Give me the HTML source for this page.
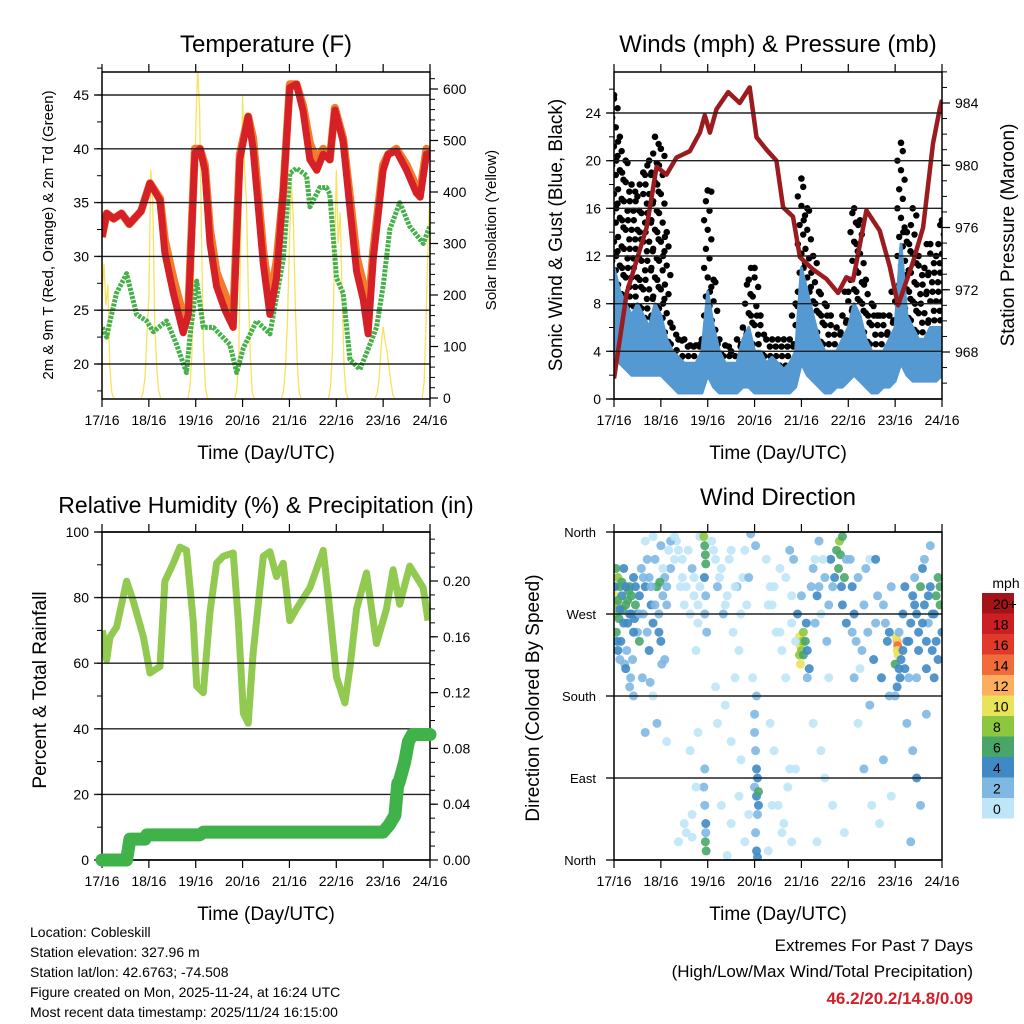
<!DOCTYPE html>
<html><head><meta charset="utf-8"><style>
body{margin:0;background:#fff}
svg{display:block;font-family:"Liberation Sans",Arial,sans-serif}
</style></head><body>
<svg id="c" width="1024" height="1024" viewBox="0 0 1024 1024" xmlns="http://www.w3.org/2000/svg">
<defs>
<clipPath id="cp1"><rect x="102" y="72" width="328" height="327"/></clipPath>
<clipPath id="cp2"><rect x="614" y="72" width="328" height="327"/></clipPath>
<clipPath id="cp3"><rect x="102" y="532" width="328" height="328"/></clipPath>
<clipPath id="cp4"><rect x="614" y="532" width="328" height="328"/></clipPath>
</defs>
</svg>
<script>
// ---------- DATA ----------
const dayLabels=["17/16","18/16","19/16","20/16","21/16","22/16","23/16","24/16"];
const tempTicks=[20,25,30,35,40,45];
const solarTicks=[0,100,200,300,400,500,600];
const windTicks=[0,4,8,12,16,20,24];
const presTicks=[968,972,976,980,984];
const rhTicks=[0,20,40,60,80,100];
const rainTicks=[0,0.04,0.08,0.12,0.16,0.20];
const dirTicks=[0,90,180,270,360];
const dirTickLabels=["North","East","South","West","North"];
const cbLabels=["20+","18","16","14","12","10","8","6","4","2","0"];
const cbColors=["#a31419","#cc1f24","#e03a2a","#f26b3a","#fbae5e","#e9e35a","#8dc63f","#4aa668","#3f8ac5","#7fb8e3","#bfe6f8"];

const tempH=[0,2.4,6,10,14,20,24.6,29.7,32.2,36.5,41.6,44.2,47.6,50.2,52.7,55.3,58.7,63,67.2,70.6,74.9,77.4,82.6,86,89.4,92.8,96.2,99.6,103,106.5,110,113.3,116.7,119.3,123.5,127,130.4,133.8,136.3,138.9,144,146.6,150.8,156,161,163,166.2,168];
const tempRed=[31.8,34,33.5,34,33,34.2,36.8,35.2,30.3,26.6,22.9,24.6,39.6,40,38,31.2,27.2,25,23.4,39,43,40,29.3,24.6,28,35.9,45.7,46,43.5,39,38,39.5,39,43.6,40.7,34.4,28.6,26,22.8,29.7,38,39.5,39.8,38,35.9,35.5,39.5,39.6];
const tempOrange=[31.8,34,33.5,34,33,34.2,36.8,35.4,31.5,28,24.5,25,40,40,38.5,32.5,28.5,26.5,24.5,39.5,43,41,30.5,26,29.5,36,46,46,44,40.5,39,40,39,43.8,41,35.5,30,27.5,24.5,30.5,38.5,39.5,40,38.5,36.5,36,40,39.8];
const dewH=[0.2,2.4,4.1,7.5,12.6,17.7,22.9,26.3,33.1,38.2,43.3,45,48.5,51.9,57,65.5,69,72.4,79.2,86,92.8,96.2,99.6,104.8,106.5,111.6,115,116.7,120.1,123.5,127,132.1,135.5,140.6,144,147.4,152.5,157.6,164.5,167.9];
const dewT=[23.4,22.5,24,26.6,28.4,24.6,24,23,24,21.8,19.2,22.5,27.7,23.4,23.4,21.8,19.2,21.5,24,22.8,29.7,37.7,38.2,37.5,34.6,36.4,36.4,35.8,28,26.6,20.4,19.5,21,23.4,27.2,32.5,35,32.8,31.2,32.8];
const solarDay0=[0,5,30,90,200,260,180,220,60,10,0];
const solarDay1=[0,10,40,120,200,443,380,150,60,15,0];
const solarDay2=[0,20,80,260,520,640,560,300,100,20,0];
const solarDay3=[0,15,70,300,588,450,380,200,80,10,0];
const solarDay4=[0,15,60,150,300,417,350,180,70,10,0];
const solarDay5=[0,20,90,250,443,300,360,200,60,10,0];
const solarDay6=[0,10,40,100,138,110,90,60,30,5,0];
const solarDay7=[0,30,150,300,404];

const windHi=[11,9,8,7,8,7,6,8,7,5,4,3.5,3,3,3,4,9,6,4,3,3,3,5,6,4,4,3,3.5,3,2.5,3,4,11,9,7,5,4,4,4,5,6,8,7,5,4,4,4,5,6,13,7,6,5,5,6,6,6];
const windLo=[4,3,2.5,2,2,2,2,2,2,1.5,1,0.5,0.5,0.5,0.5,0.5,2,1,0.5,0.5,0.5,0.5,1,1,0.5,0.5,0.5,0.5,0.5,0.5,0.5,1,3,2,1.5,1,0.5,0.5,1,1,1.5,2,1.5,1,0.5,0.5,1,1,1.5,3,2,1.5,1.5,1.5,1.5,1.5,2];
const gustHi=[25.5,22,20,18,17,19,20,22,21,14,6,5,5,4.5,4.5,5,17.5,10,5,4.5,4,5,6,10,11,7,5,5,5,5,5,8,18.5,16,12,9,8,7,6,7,9,16,15,10,8,7,7,7,9,21.5,14,16,12,11,13,12,15];
const gustLo=[10,8,7,7,7,6,6,7,6,4,3,2.5,2,2,2,3,7,5,3,2,2,2,3,4,3,3,2,2,2,2,2,3,9,7,5,4,3,3,3,4,5,6,5,4,3,3,3,4,5,8,6,5,4,4,5,5,5];
const presH=[0,6.5,16.7,21.8,26.9,32,38.8,44,46.5,49.1,52.5,58.5,64.4,69.5,73,78.1,83.2,86.6,91.7,95.2,102,108.8,114.8,119,122.4,129.3,136.1,141.2,145.5,153.2,158.3,163.4,166.8,168];
const presV=[966.3,971.8,976,979.9,979.4,980.5,980.9,982.1,983.2,982.1,983.6,984.7,984,985,981.8,981,980.3,977.3,976.7,974.1,973.3,972.7,971.8,972.8,972.6,977.1,975.8,973.5,971,973.8,976,981.4,983.6,984.2];

const rhH=[0.2,2.4,4.1,7.5,12.6,16,21.2,24.6,29.7,32.2,36.5,39.9,43.3,46.7,48.5,51.9,55.3,58.7,62.1,67.2,69.8,72.4,74.9,77.4,82.6,86,89.4,92.8,96.2,99.6,106.5,113.3,115.9,120.1,124.4,127,130.4,135.5,140.6,145.7,149.1,152.5,157.6,164.5,167];
const rhV=[70,61,68,71,85,79,68,57,59,85,90.5,95.4,94.4,73,53,51,75.6,90.5,92.6,93.6,73,44.7,41.7,63,92.6,94,86.4,90.5,73,76.6,83,94.4,80.5,55.8,47.9,58.8,76.6,87.5,66,76.6,88.5,78,89.6,83,73];
const rainH=[0,12.6,14.3,22,23,50,52,144,147,150,151.5,152,155,157,159,168];
const rainV=[0,0,0.015,0.015,0.018,0.018,0.02,0.02,0.025,0.032,0.055,0.055,0.07,0.085,0.09,0.09];

const dirH=[0.5,1,1.5,0.8,2,3,2.5,4,5,6,7,8,9,10,11,12,3.5,6.5,9.5,1.2,4.5,7.5,10.5,2,5.5,8.5,0.3,
13,14,15,16,17,18,19,20,21,22,23,24,25,26,27,28,29,14.5,18.5,24.5,20,16,22,27,13,23.5,
31,32,34,35,36,38,40,41,42,43,44,44,33,37,40,39,43,
46,46.5,46.8,47,46.3,47,46.5,47.5,46,46.5,47,46.8,47.2,46.5,47,
50,52,53,55,56,58,60,61,63,64,66,68,52,57,62,65,55,60,67,58,
72,72.5,73,73.5,72,73,74,73.5,72.5,73,73.5,72,73,74,71,70,72.5,
78,80,81,83,85,86,88,90,91,92,80,82,84,87,89,91,93,79,
95,95.5,95,96,96.5,97,95.5,97,98,99,100,98.5,94,99,96,
101,103,104,105,106,108,109,110,111,112,114,115,115.5,116,116.5,117,117,118,119,102,106,108,112,118,104,
121,122,123,124,125,126,128,130,131,133,135,137,139,140,141,142,125,128,132,136,138,142,134,
145,145.3,145,144.5,145.5,144,146,146.5,145,144,147,146,
148,149,150,151,152,153,154,155,156,157,158,159,160,161,162,163,164,165,166,167,168,150,153,155,157,152,160,164,166,159,162,
1,2,3,4,5,6,7,8,9,10,11,12,1.5,3,6,8,10,
13,15,17,19,21,23,25,27,29,16,20,24,18,26,
31,33,35,37,39,41,43,36,40,42,
51,54,57,59,62,65,67,69,53,60,64,69,
79,82,85,88,91,93,81,86,90,
102,105,107,110,113,119,103,
122,127,129,134,138,141,123,131,
149,151,154,156,158,161,163,165,167,155,160,148];
const dirD=[290,300,280,270,310,300,265,290,320,280,260,300,270,310,280,250,240,230,220,250,275,295,265,230,215,200,300,
290,320,270,300,250,310,280,260,330,300,270,240,290,310,280,340,320,200,195,215,180,140,150,130,240,305,
330,350,300,310,280,340,320,290,230,260,355,300,20,30,50,120,140,
355,345,335,325,310,290,270,250,80,60,40,20,10,100,30,
350,330,300,320,270,290,340,250,300,230,310,280,190,170,200,110,60,40,20,5,
140,120,100,90,80,70,60,50,30,10,3,160,180,75,200,358,345,
330,300,280,250,320,230,200,340,260,330,150,120,60,40,80,20,100,10,
245,235,225,230,240,250,215,225,240,230,210,260,270,200,290,
300,330,290,350,270,310,240,200,330,300,340,320,350,335,300,280,355,310,260,150,120,90,60,30,20,
330,300,270,240,310,210,280,250,330,220,290,200,260,240,180,300,150,100,60,40,110,70,330,
240,235,230,245,225,215,210,200,190,180,220,250,
230,210,240,200,260,290,310,270,250,300,320,280,240,260,300,230,270,290,310,280,250,150,120,90,60,20,160,200,220,330,345,
320,285,275,305,260,300,285,270,290,250,300,270,240,220,210,190,180,
270,310,330,300,280,250,320,300,350,350,355,345,230,220,
355,340,330,300,270,310,280,40,25,80,
340,310,280,330,300,270,340,310,150,130,70,50,
280,300,250,310,290,240,60,30,100,
320,300,330,280,310,330,260,
250,230,320,260,280,250,200,170,
300,240,280,230,260,290,270,240,300,200,210,270];
const dirS=[10,10,9,8,8,6,6,5,5,6,4,6,5,4,6,3,4,3,3,7,6,7,5,4,3,2,5,
4,2,3,4,2,3,5,4,2,6,3,4,2,2,3,1,2,3,2,3,1,2,2,1,6,7,
0,1,1,0,1,0,2,1,0,1,1,1,0,1,0,1,0,
8,7,7,6,4,3,3,2,3,2,4,6,6,2,3,
1,0,2,1,3,1,1,0,2,1,0,1,0,1,0,1,0,1,0,1,
3,3,4,4,3,4,5,3,3,4,4,2,3,6,1,3,3,
1,0,1,0,1,1,0,2,1,3,1,0,1,1,0,1,1,1,
10,10,9,9,8,8,10,7,6,4,4,4,4,3,2,
2,1,4,2,1,2,3,1,4,2,6,7,8,6,5,4,7,6,4,1,0,1,0,1,1,
3,4,4,3,2,1,2,3,1,4,3,4,3,5,3,2,1,2,1,0,2,1,4,
12,14,11,10,10,6,4,4,5,3,4,3,
4,4,5,3,4,4,3,5,4,6,4,5,4,3,4,4,5,6,7,6,4,3,3,4,3,2,3,5,4,3,3,
6,7,5,6,4,5,6,4,7,5,4,4,5,3,4,3,3,
3,2,2,3,2,4,1,2,2,1,1,2,4,3,
0,1,0,1,0,1,1,0,0,1,
1,1,0,1,0,1,1,2,1,0,0,1,
1,1,0,1,0,1,0,1,1,
2,3,1,2,4,3,2,
3,2,3,3,2,4,3,2,
4,4,5,4,5,4,5,4,7,3,4,4];

// ---------- DRAW ----------
const NS="http://www.w3.org/2000/svg";
const svg=document.getElementById('c');
function el(tag,attrs,parent){const e=document.createElementNS(NS,tag);for(const k in attrs)e.setAttribute(k,attrs[k]);(parent||svg).appendChild(e);return e;}
function lin(d0,d1,r0,r1){return v=>r0+(v-d0)*(r1-r0)/(d1-d0);}
function txt(x,y,s,size,anchor,parent,extra){const t=el('text',Object.assign({x:x,y:y,'font-size':size,'text-anchor':anchor||'start',fill:'#000'},extra||{}),parent);t.textContent=s;return t;}
function pathOf(xs,ys,fx,fy){let d='';for(let i=0;i<xs.length;i++){d+=(i?'L':'M')+fx(xs[i]).toFixed(1)+','+fy(ys[i]).toFixed(1);}return d;}

function frame(g,x0,x1,y0,y1,xf){
  for(let i=0;i<dayLabels.length;i++){
    const x=xf(i*24);
    el('line',{x1:x,y1:y0,x2:x,y2:y0-8,stroke:'#000','stroke-width':1.2},g);
    el('line',{x1:x,y1:y1,x2:x,y2:y1+8,stroke:'#000','stroke-width':1.2},g);
    const t=txt(x,y1+26,dayLabels[i],14,'middle',g);
    
    
  }
  const r=el('rect',{x:x0,y:y0,width:x1-x0,height:y1-y0,fill:'none',stroke:'#000','stroke-width':1.5},g);
  
  
  const xt=txt((x0+x1)/2,y1+60,'Time (Day/UTC)',19,'middle',g);
  
  
}
function leftAxis(g,ticks,yf,x0,x1,labelFmt,minorStep,ymin,ymax,grid){
  for(const v of ticks){const y=yf(v);
    if(grid)el('line',{x1:x0-8,y1:y,x2:x1,y2:y,stroke:'#222','stroke-width':1.4},g);
    else el('line',{x1:x0-8,y1:y,x2:x0,y2:y,stroke:'#000','stroke-width':1.2},g);
    const t=txt(x0-13,y+5,labelFmt(v),14,'end',g);
    
    
  }
  if(minorStep){for(let v=ymin;v<=ymax+1e-9;v+=minorStep){const y=yf(v);el('line',{x1:x0-5,y1:y,x2:x0,y2:y,stroke:'#000','stroke-width':1},g);}}
}
function rightAxis(g,ticks,yf,x1,labelFmt,minorStep,ymin,ymax){
  for(const v of ticks){const y=yf(v);
    el('line',{x1:x1,y1:y,x2:x1+8,y2:y,stroke:'#000','stroke-width':1.2},g);
    const t=txt(x1+13,y+5,labelFmt(v),14,'start',g);
    
    
  }
  if(minorStep){for(let v=ymin;v<=ymax+1e-9;v+=minorStep){const y=yf(v);el('line',{x1:x1,y1:y,x2:x1+5,y2:y,stroke:'#000','stroke-width':1},g);}}
}
function vtitle(g,x,y,s,size,name){const t=el('text',{x:0,y:0,'font-size':size,'text-anchor':'middle',transform:`translate(${x},${y}) rotate(-90)`,fill:'#000'},g);t.textContent=s;}

// ===== Panel 1 Temperature =====
{
const g=el('g',{});
const xf=lin(0,168,102,430), yT=lin(20,45,364,95), yS=lin(0,600,398,89);
const t=txt(266,52,'Temperature (F)',24,'middle',g);
const pg=el('g',{'clip-path':'url(#cp1)'},g);
const solar=[solarDay0,solarDay1,solarDay2,solarDay3,solarDay4,solarDay5,solarDay6,solarDay7];
solar.forEach((arr,d)=>{const hs=arr.map((_,i)=>d*24-4+i);
  const p=el('path',{d:pathOf(hs,arr,xf,yS),fill:'none',stroke:'#f7df4a','stroke-width':1.3,'stroke-opacity':0.9},pg);
  });
let p=el('path',{d:pathOf(dewH,dewT,xf,yT),fill:'none',stroke:'#46b04a','stroke-width':5,'stroke-dasharray':'3 1.2','stroke-linejoin':'round'},pg);

p=el('path',{d:pathOf(tempH,tempOrange,xf,yT),fill:'none',stroke:'#f47b2a','stroke-width':8,'stroke-linejoin':'round'},pg);

p=el('path',{d:pathOf(tempH,tempRed,xf,yT),fill:'none',stroke:'#d42026','stroke-width':7,'stroke-linejoin':'round'},pg);

leftAxis(g,tempTicks,yT,102,430,v=>String(v),2.5,17.5,47.5,true);
rightAxis(g,solarTicks,yS,430,v=>String(v),20,0,620);
frame(g,102,430,72,399,xf);
vtitle(g,53,235,'2m & 9m T (Red, Orange) & 2m Td (Green)',15,'y-axis-title');
vtitle(g,496,230,'Solar Insolation (Yellow)',15,'y2-axis-title');
}

// ===== Panel 2 Winds =====
{
const g=el('g',{});
const xf=lin(0,168,614,942), yW=lin(0,24,399,113), yP=lin(968,984,352,103);
const t=txt(778,52,'Winds (mph) & Pressure (mb)',24,'middle',g);
const pg=el('g',{'clip-path':'url(#cp2)'},g);
for(let i=0;i<gustHi.length;i++){
  const x=xf(i*3);
  let k=0;
  for(let v=gustLo[i];v<=gustHi[i]+0.01;v+=0.8,k++){
    const c=el('circle',{cx:x+(((k*3)%5)-2)*1.8,cy:yW(v),r:3.2,fill:'#000'},pg);
    
    
  }
  const c=el('circle',{cx:x,cy:yW(gustHi[i]),r:3.3,fill:'#000'},pg);
  
  
}
const hs=windHi.map((_,i)=>i*3);
let d=pathOf(hs,windHi,xf,yW);for(let i=windLo.length-1;i>=0;i--)d+='L'+xf(i*3).toFixed(1)+','+yW(windLo[i]).toFixed(1);d+='Z';
let p=el('path',{d:d,fill:'#5499d2',stroke:'#5499d2','stroke-width':3,'stroke-linejoin':'round'},pg);

p=el('path',{d:pathOf(presH,presV,xf,yP),fill:'none',stroke:'#9b1b1e','stroke-width':4.5,'stroke-linejoin':'round'},pg);

leftAxis(g,windTicks,yW,614,942,v=>String(v),2,0,27,true);
rightAxis(g,presTicks,yP,942,v=>String(v),1,966,986);
frame(g,614,942,72,399,xf);
vtitle(g,562,235,'Sonic Wind & Gust (Blue, Black)',19,'y-axis-title');
vtitle(g,1014,235,'Station Pressure (Maroon)',19,'y2-axis-title');
}

// ===== Panel 3 RH & Rain =====
{
const g=el('g',{});
const xf=lin(0,168,102,430), yR=lin(0,100,860,532), yRain=lin(0,0.2,860,581);
const t=txt(266,513,'Relative Humidity (%) & Precipitation (in)',23,'middle',g);
const pg=el('g',{'clip-path':'url(#cp3)'},g);
let p=el('path',{d:pathOf(rhH,rhV,xf,yR),fill:'none',stroke:'#92c950','stroke-width':7,'stroke-linejoin':'round'},pg);

p=el('path',{d:pathOf(rainH,rainV,xf,yRain),fill:'none',stroke:'#3fb24a','stroke-width':13,'stroke-linejoin':'round','stroke-linecap':'round'},svg);

leftAxis(g,rhTicks,yR,102,430,v=>String(v),10,0,100,true);
rightAxis(g,rainTicks,yRain,430,v=>v.toFixed(2),0.01,0,0.23);
frame(g,102,430,532,860,xf);
vtitle(g,46,690,'Percent & Total Rainfall',19,'y-axis-title');
}

// ===== Panel 4 Wind Direction =====
{
const g=el('g',{});
const xf=lin(0,168,614,942), yD=lin(0,360,860,532);
const t=txt(778,505,'Wind Direction',24,'middle',g);
const pg=el('g',{'clip-path':'url(#cp4)'},g);
for(let i=0;i<dirH.length;i++){
  const bin=Math.min(10,Math.floor(dirS[i]/2));
  const c=el('circle',{cx:xf(dirH[i]),cy:yD(dirD[i]),r:4.5,fill:cbColors[10-bin],'fill-opacity':0.9},pg);
  
}
for(let i=0;i<dirTicks.length;i++){const y=yD(dirTicks[i]);
  el('line',{x1:606,y1:y,x2:942,y2:y,stroke:'#222','stroke-width':1.4},g);
  const l=txt(596,y+5,dirTickLabels[i],13,'end',g);}
frame(g,614,942,532,860,xf);
vtitle(g,539,698,'Direction (Colored By Speed)',19,'y-axis-title');
const cb=el('g',{});
const lt=txt(1006,588,'mph',14,'middle',cb);
for(let i=0;i<cbColors.length;i++){
  const y=593+i*20.5;
  const r=el('rect',{x:982,y:y,width:32,height:20.5,fill:cbColors[i]},cb);
  
  const l=txt(993,y+16,cbLabels[i],14,'start',cb);
}
}

// ===== Footer =====
const foot=["Location: Cobleskill","Station elevation: 327.96 m","Station lat/lon: 42.6763; -74.508","Figure created on Mon, 2025-11-24, at 16:24 UTC","Most recent data timestamp: 2025/11/24 16:15:00"];
foot.forEach((s,i)=>{const t=txt(30,937+i*20,s,14,'start');});
let e=txt(973,951,'Extremes For Past 7 Days',17,'end');
e=txt(973,977,'(High/Low/Max Wind/Total Precipitation)',17,'end');
e=txt(973,1004,'46.2/20.2/14.8/0.09',17,'end',null,{'font-weight':'bold',fill:'#d0202a'});
</script>
</body></html>
